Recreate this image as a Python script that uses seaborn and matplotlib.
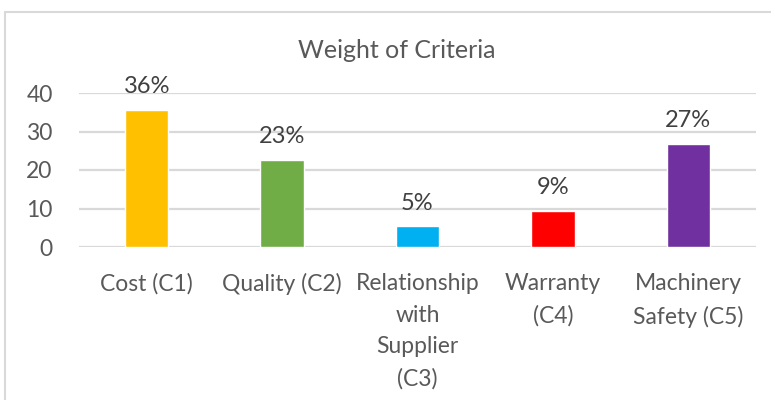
import matplotlib
matplotlib.use("Agg")
import matplotlib.pyplot as plt
import matplotlib.patches as patches
import pandas as pd
import seaborn as sns

# data
criteria = ["Cost (C1)", "Quality (C2)", "Relationship\nwith\nSupplier\n(C3)",
            "Warranty\n(C4)", "Machinery\nSafety (C5)"]
weights = [35.7, 22.7, 5.4, 9.4, 26.8]
pct_labels = ["36%", "23%", "5%", "9%", "27%"]
bar_colors = ["#FFC000", "#70AD47", "#00B0F0", "#FF0000", "#7030A0"]
y_ticks = [0, 10, 20, 30, 40]

df = pd.DataFrame({"Criteria": criteria, "Weight": weights})

sns.set_style("white")
plt.rcParams["font.family"] = ["Lato", "DejaVu Sans"]

fig = plt.figure(figsize=(7.71, 4.0), dpi=100)
ax = fig.add_axes([79 / 771, 1 - 247 / 400, 677 / 771, 154 / 400])

sns.barplot(data=df, x="Criteria", y="Weight", hue="Criteria",
            palette=bar_colors, width=0.32, legend=False, ax=ax,
            saturation=1)

ax.set_ylim(0, 40)
ax.set_yticks(y_ticks)
ax.yaxis.grid(True, color="#d9d9d9", lw=1.6)
ax.set_axisbelow(True)
for s in ax.spines.values():
    s.set_visible(False)
ax.set_xlabel("")
ax.set_ylabel("")
ax.tick_params(axis="y", length=0, pad=19, labelsize=16.5, labelcolor="#595959")
ax.tick_params(axis="x", length=0, pad=19, labelsize=16.5, labelcolor="#595959")
for lbl in ax.get_xticklabels():
    lbl.set_linespacing(1.62)

for cont, txt in zip(ax.containers, pct_labels):
    ax.bar_label(cont, labels=[txt], padding=9, fontsize=17, color="#404040")

fig.text(397 / 771, 1 - 50 / 400, "Weight of Criteria", ha="center", va="center",
         fontsize=18, color="#595959")

# chart area border
fig.patches.append(patches.Rectangle((5 / 771, -0.1), 1.2, 0.1 + (1 - 12 / 400),
                                     transform=fig.transFigure, fill=False,
                                     edgecolor="#d9d9d9", lw=1.5))

fig.savefig("out.png", dpi=100)
